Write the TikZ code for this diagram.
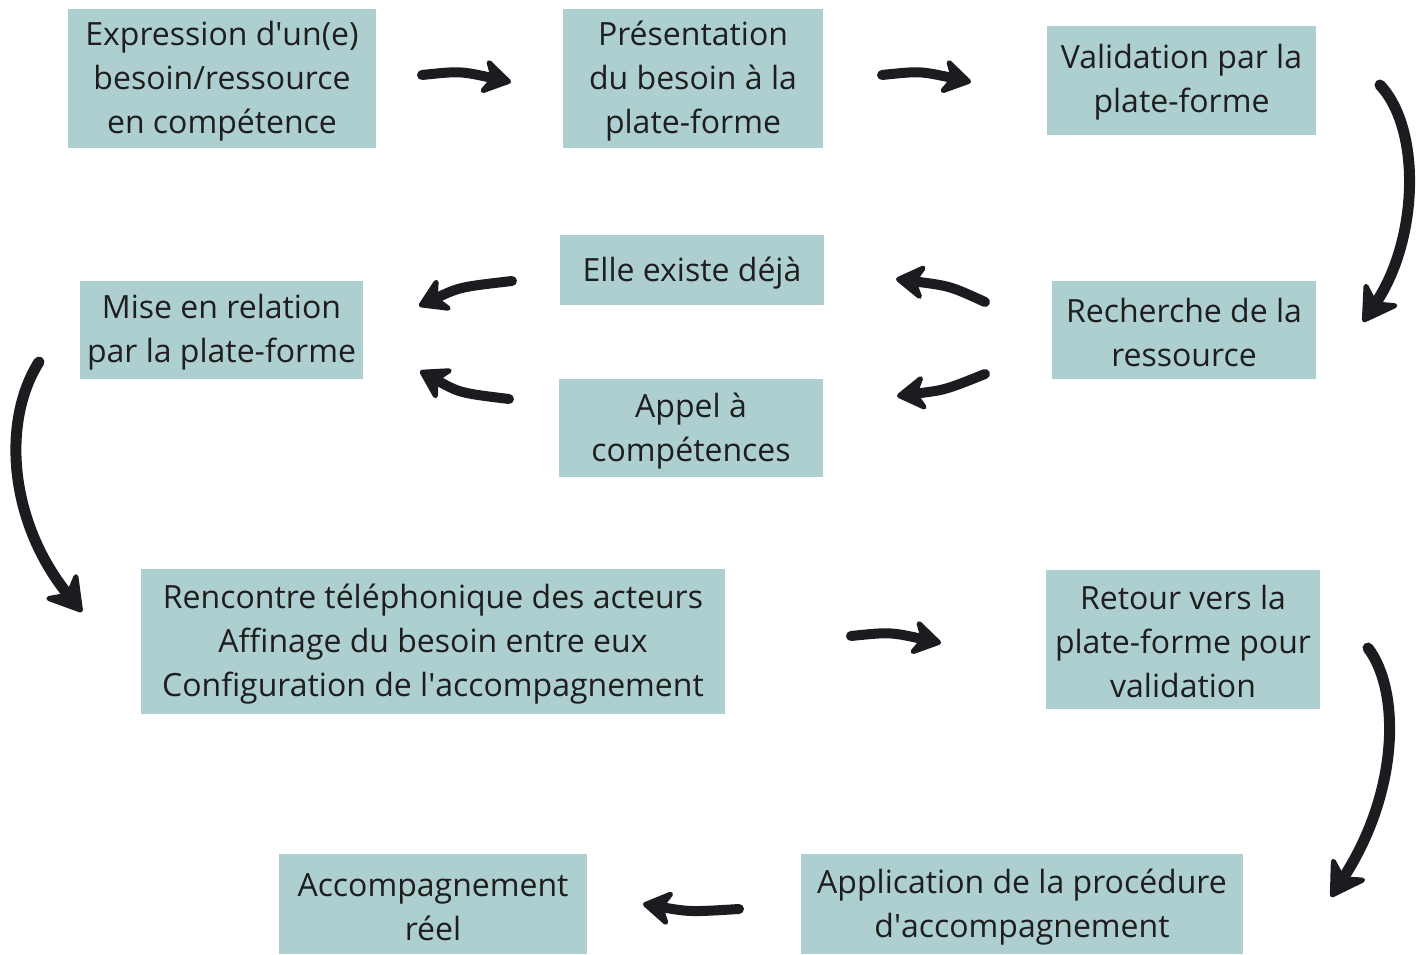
\documentclass[tikz,border=0pt]{standalone}
\usepackage{fontspec}
\setmainfont{Open Sans}
\usetikzlibrary{arrows.meta}
\definecolor{boxfill}{HTML}{ADCFD0}
\definecolor{ink}{HTML}{1B1C20}
\definecolor{txt}{HTML}{1E1E1E}
\newcommand{\apos}{\textquotesingle}
\tikzset{
  box/.style={fill=boxfill, inner sep=0pt},
  boxtext/.style={inner sep=0pt, align=center, text=txt,
    font=\fontsize{32}{44}\selectfont},
  brush/.style={draw=ink, line width=10pt, line cap=round,
    -{Stealth[length=34pt,width=42pt,inset=11pt,round,line width=5pt]}},
  bigbrush/.style={draw=ink, line width=11pt, line cap=round,
    -{Stealth[length=40pt,width=48pt,inset=13pt,round,line width=5pt]}},
}
\begin{document}
\begin{tikzpicture}[x=1pt,y=-1pt]
\useasboundingbox (0,0) rectangle (1425,955);
\node[box, minimum width=308, minimum height=139] (e1) at (222,78.5) {};
\node[box, minimum width=260, minimum height=139] (e2) at (693,78.5) {};
\node[box, minimum width=269, minimum height=109] (e3) at (1181.5,80.5) {};
\node[box, minimum width=264, minimum height=70] (e4) at (692,270) {};
\node[box, minimum width=264, minimum height=98] (e5) at (1184,330) {};
\node[box, minimum width=283, minimum height=98] (e6) at (221.5,330) {};
\node[box, minimum width=264, minimum height=98] (e7) at (691,428) {};
\node[box, minimum width=584, minimum height=145] (e8) at (433,641.5) {};
\node[box, minimum width=274, minimum height=139] (e9) at (1183,639.5) {};
\node[box, minimum width=308, minimum height=100] (e10) at (433,904) {};
\node[box, minimum width=442, minimum height=100] (e11) at (1022,904) {};

\node[boxtext] (t1) at ([yshift=-3]e1.center) {Expression d\apos un(e)\\besoin/ressource\\en compétence};
\node[boxtext] (t2) at ([yshift=-3]e2.center) {Présentation\\du besoin à la\\plate-forme};
\node[boxtext] (t3) at ([yshift=-2]e3.center) {Validation par la\\plate-forme};
\node[boxtext] (t4) at ([yshift=-3]e4.center) {Elle existe déjà};
\node[boxtext] (t5) at ([yshift=-2]e5.center) {Recherche de la\\ressource};
\node[boxtext] (t6) at ([yshift=-2]e6.center) {Mise en relation\\par la plate-forme};
\node[boxtext] (t7) at ([yshift=-3]e7.center) {Appel à\\compétences};
\node[boxtext] (t8) at ([yshift=-3]e8.center) {Rencontre téléphonique des acteurs\\Affinage du besoin entre eux\\Configuration de l\apos accompagnement};
\node[boxtext] (t9) at ([yshift=-2]e9.center) {Retour vers la\\plate-forme pour\\validation};
\node[boxtext] (t10) at ([yshift=-3]e10.center) {Accompagnement\\réel};
\node[boxtext] (t11) at ([yshift=-3]e11.center) {Application de la procédure\\d\apos accompagnement};

% connector end points
\coordinate (a1s) at (422,75);   \coordinate (a1e) at (511,82);
\coordinate (a2s) at (882,75);   \coordinate (a2e) at (971,82);
\coordinate (a3s) at (1380,85);  \coordinate (a3e) at (1363,322);
\coordinate (a4s) at (985,302);  \coordinate (a4e) at (896,279);
\coordinate (a5s) at (985,374);  \coordinate (a5e) at (897,396);
\coordinate (a6s) at (512,281);  \coordinate (a6e) at (419,306);
\coordinate (a7s) at (509,399);  \coordinate (a7e) at (420,371);
\coordinate (a8s) at (39,362);   \coordinate (a8e) at (82,612);
\coordinate (a9s) at (851,636);  \coordinate (a9e) at (941,643);
\coordinate (a10s) at (1368,648); \coordinate (a10e) at (1331,897);
\coordinate (a11s) at (739,909); \coordinate (a11e) at (643,904);

\draw[brush] (a1s) .. controls (460,71) .. (a1e);
\draw[brush] (a2s) .. controls (920,71) .. (a2e);
\draw[bigbrush] (a3s) .. controls (1422,130) and (1418,240) .. (a3e);
\draw[brush] (a4s) .. controls (950,286) .. (a4e);
\draw[brush] (a5s) .. controls (945,390) .. (a5e);
\draw[brush] (a6s) .. controls (460,287) .. (a6e);
\draw[brush] (a7s) .. controls (460,393) .. (a7e);
\draw[bigbrush] (a8s) .. controls (2,420) and (8,520) .. (a8e);
\draw[brush] (a9s) .. controls (890,632) .. (a9e);
\draw[bigbrush] (a10s) .. controls (1400,690) and (1400,790) .. (a10e);
\draw[brush] (a11s) .. controls (690,912) .. (a11e);
\end{tikzpicture}
\end{document}
